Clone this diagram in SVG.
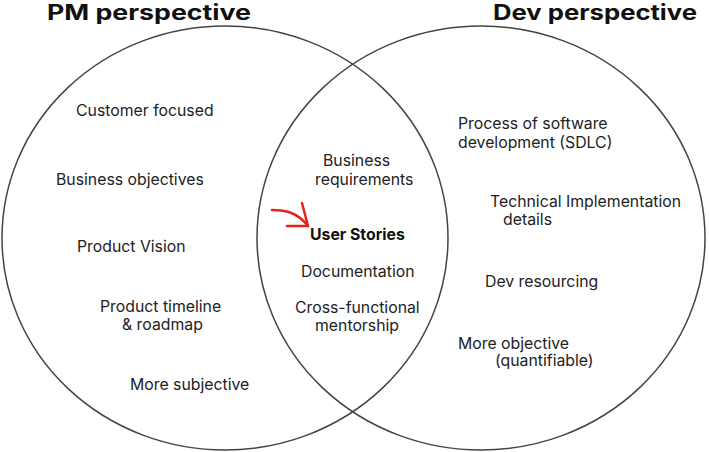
<svg xmlns="http://www.w3.org/2000/svg" width="709" height="452" viewBox="0 0 709 452">
  <style>
    .ring { fill: none; stroke: #444; stroke-width: 1.5; }
    .title { font-family: Inter, "Liberation Sans", sans-serif; font-size: 21px; font-weight: 700; fill: #111; }
    .item { font-family: Inter, "Liberation Sans", sans-serif; font-size: 15.8px; font-weight: 400; fill: #222; }
    .key { font-family: Inter, "Liberation Sans", sans-serif; font-size: 15.8px; font-weight: 700; fill: #111; }
    .mark { fill: none; stroke: #e3241c; stroke-width: 2.5; stroke-linecap: round; stroke-linejoin: round; }
  </style>
  <rect width="709" height="452" fill="#fff"/>

  <!-- PM side -->
  <g id="pm">
    <ellipse class="ring" cx="225" cy="238" rx="223" ry="212"/>
    <text class="title" x="47" y="20" textLength="204" lengthAdjust="spacingAndGlyphs">PM perspective</text>
    <text class="item" x="76" y="116">Customer focused</text>
    <text class="item" x="56" y="185">Business objectives</text>
    <text class="item" x="77" y="252">Product Vision</text>
    <text class="item" x="100" y="312">Product timeline</text>
    <text class="item" x="122" y="330">&amp; roadmap</text>
    <text class="item" x="130" y="390">More subjective</text>
  </g>

  <!-- Dev side -->
  <g id="dev">
    <ellipse class="ring" cx="481" cy="238" rx="224" ry="212"/>
    <text class="title" x="493" y="20" textLength="204" lengthAdjust="spacingAndGlyphs">Dev perspective</text>
    <text class="item" x="458" y="129">Process of software</text>
    <text class="item" x="458" y="148">development (SDLC)</text>
    <text class="item" x="490" y="207">Technical Implementation</text>
    <text class="item" x="503" y="225">details</text>
    <text class="item" x="485" y="287">Dev resourcing</text>
    <text class="item" x="458" y="349">More objective</text>
    <text class="item" x="495" y="366">(quantifiable)</text>
  </g>

  <!-- Shared overlap -->
  <g id="shared">
    <text class="item" x="323" y="166">Business</text>
    <text class="item" x="315" y="185">requirements</text>
    <text class="key" x="310" y="240">User Stories</text>
    <text class="item" x="301" y="277">Documentation</text>
    <text class="item" x="295" y="313">Cross-functional</text>
    <text class="item" x="315" y="331">mentorship</text>
  </g>

  <!-- Hand-drawn pointer -->
  <g id="connectors">
    <path class="mark" d="M272 210 C285 210 297 212 308 226"/>
    <path class="mark" d="M302 203 L308 226 L287 226"/>
  </g>
</svg>
